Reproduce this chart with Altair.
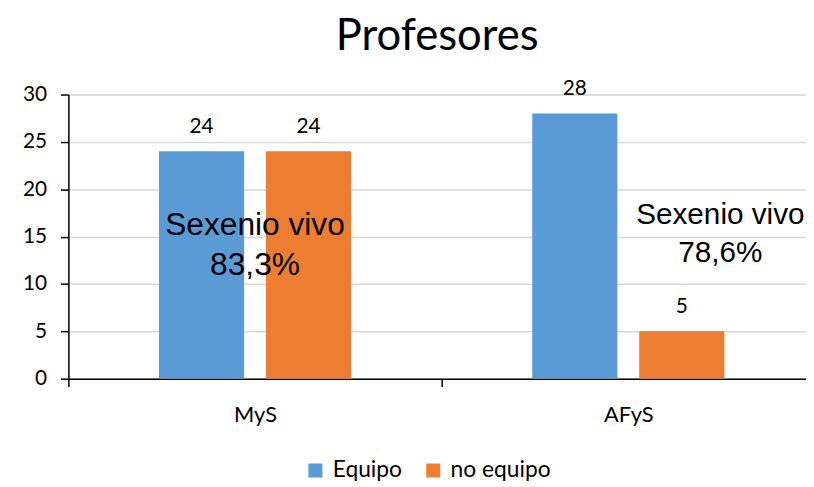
import altair as alt
import pandas as pd

categories = ["MyS", "MyS", "AFyS", "AFyS"]
series = ["Equipo", "no equipo", "Equipo", "no equipo"]
values = [24, 24, 28, 5]

ann1_lines = ["Sexenio vivo", "83,3%"]
ann1_y = [16.2, 12.0]
ann2_lines = ["Sexenio vivo", "78,6%"]
ann2_y = [17.25, 13.3]

df = pd.DataFrame({"cat": categories, "serie": series, "val": values})
a1 = pd.DataFrame({"cat": ["MyS", "MyS"], "txt": ann1_lines, "y": ann1_y})
a2 = pd.DataFrame({"cat": ["AFyS", "AFyS"], "txt": ann2_lines, "y": ann2_y})

FONT = "Lato"
SORT = ["MyS", "AFyS"]
x_scale = alt.Scale(paddingInner=0, paddingOuter=0, range=[0, 754])
x_enc = alt.X("cat:N", sort=SORT, title=None, scale=x_scale)
y_scale = alt.Scale(domain=[0, 30])
y_enc = alt.Y("val:Q", scale=y_scale, title=None,
              axis=alt.Axis(values=[0, 5, 10, 15, 20, 25, 30]))
color_enc = alt.Color("serie:N", scale=alt.Scale(domain=["Equipo", "no equipo"],
                                                 range=["#5B9BD5", "#ED7D31"]),
                      legend=alt.Legend(title=None, orient="none", direction="horizontal",
                                        legendX=238, legendY=368, symbolType="square",
                                        symbolSize=200, symbolStrokeWidth=0, labelFont=FONT,
                                        labelFontSize=23, labelColor="#000", columnPadding=20,
                                        labelOffset=6))
xo = alt.XOffset("serie:N", sort=["Equipo", "no equipo"],
                 scale=alt.Scale(paddingInner=0.2037, paddingOuter=0.847))

bars = alt.Chart(df).mark_bar().encode(x=x_enc, y=y_enc, color=color_enc, xOffset=xo)
labels = alt.Chart(df).mark_text(dy=-25, font=FONT, fontSize=21, color="#000").encode(
    x=alt.X("cat:N", sort=SORT, title=None, scale=x_scale),
    y=alt.Y("val:Q", scale=y_scale, title=None), xOffset=xo, text="val:Q")
t1 = alt.Chart(a1).mark_text(font="Liberation Sans", fontSize=32, color="#000").encode(
    x=alt.X("cat:N", sort=SORT, title=None, scale=x_scale),
    y=alt.Y("y:Q", scale=y_scale, title=None), text="txt:N")
t2 = alt.Chart(a2).mark_text(font="Liberation Sans", fontSize=30, color="#000", dx=93).encode(
    x=alt.X("cat:N", sort=SORT, title=None, scale=x_scale),
    y=alt.Y("y:Q", scale=y_scale, title=None), text="txt:N")

chart = alt.layer(bars, labels, t1, t2).properties(
    width=745, height=287,
    title=alt.TitleParams("Profesores", font=FONT, fontSize=44, fontWeight="normal",
                          color="#000", anchor="middle", offset=19, frame="group"),
    autosize=alt.AutoSizeParams(type="none"),
    padding={"left": 61, "top": 85, "right": 0, "bottom": 107},
).configure_view(stroke=None).configure(background="white").configure_axisX(
    labelAngle=0, labelFont=FONT, labelFontSize=22, labelColor="#000",
    domainColor="#000", domainWidth=1.5, tickColor="#000", tickWidth=1.5, tickSize=8,
    tickBand="extent", labelPadding=18, grid=False
).configure_axisY(
    labelFont=FONT, labelFontSize=21, labelColor="#000", domainColor="#000", domainWidth=1.5,
    tickColor="#000", tickWidth=1.5, tickSize=8, labelPadding=14, gridColor="#D9D9D9",
    gridWidth=1.5
)

chart.save("out.html", embed_options={"renderer": "svg", "actions": False})
